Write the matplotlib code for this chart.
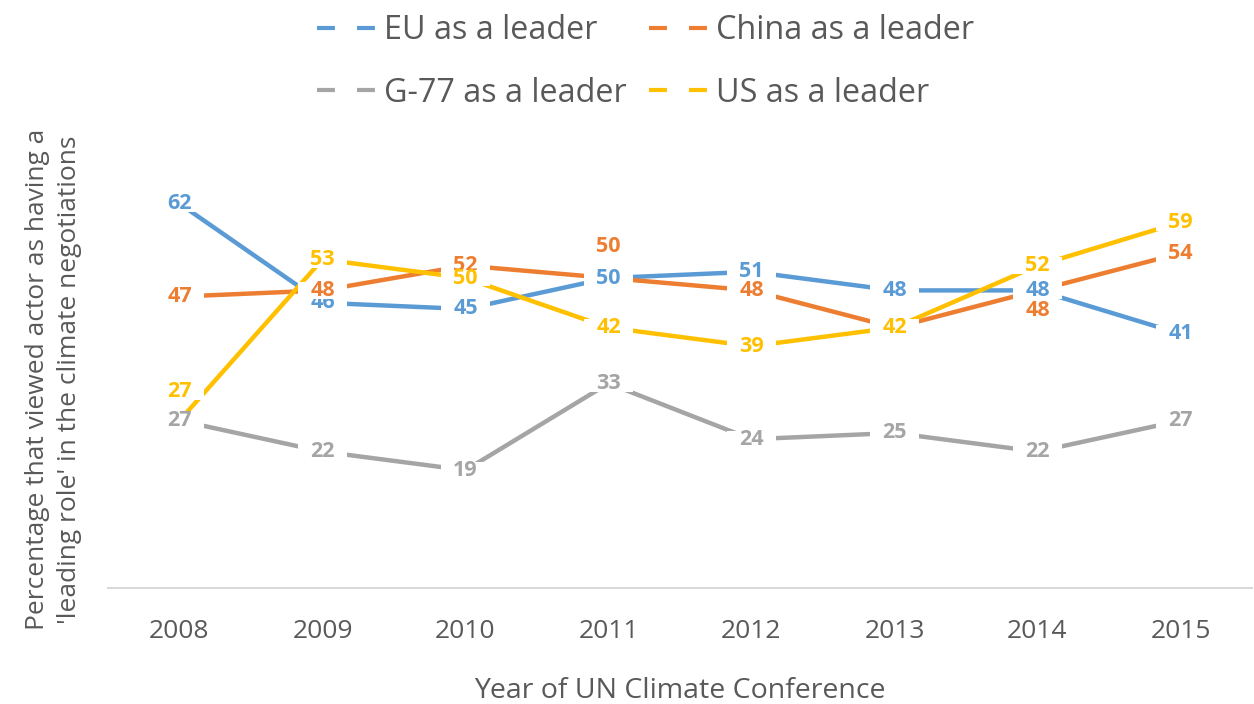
import matplotlib
matplotlib.use("Agg")
import matplotlib.pyplot as plt
from matplotlib.lines import Line2D
from matplotlib.path import Path

years = [2008, 2009, 2010, 2011, 2012, 2013, 2014, 2015]
eu = [62, 46, 45, 50, 51, 48, 48, 41]
china = [47, 48, 52, 50, 48, 42, 48, 54]
g77 = [27, 22, 19, 33, 24, 25, 22, 27]
us = [27, 53, 50, 42, 39, 42, 52, 59]

names = ["EU as a leader", "China as a leader", "G-77 as a leader", "US as a leader"]
colors = ["#5B9BD5", "#ED7D31", "#A5A5A5", "#FFC000"]

# a few labels were nudged off their points in the original (value units)
nudge = {("China as a leader", 2011): 5.0,
         ("China as a leader", 2014): -3.3,
         ("US as a leader", 2008): 4.7}

txt = "#595959"


def label_box(x0, y0, width, height, mutation_size):
    # wide, flat white box like excel's label fill
    px = 0.55 * mutation_size
    py = -0.1 * mutation_size
    return Path([(x0 - px, y0 - py), (x0 + width + px, y0 - py),
                 (x0 + width + px, y0 + height + py), (x0 - px, y0 + height + py),
                 (x0 - px, y0 - py)], closed=True)


fig = plt.figure(figsize=(12.54, 7.04), dpi=100)
ax = fig.add_axes([108 / 1254, 116 / 704, 1144 / 1254, 434 / 704])

xs = list(range(len(years)))
series = [eu, china, g77, us]
for vals, c in zip(series, colors):
    ax.plot(xs, vals, color=c, lw=3.2, solid_capstyle="butt", zorder=2)

# label draw order: eu, china, g-77, us (us on top)
for z, k in enumerate([0, 1, 2, 3]):
    for i, v in enumerate(series[k]):
        dy = nudge.get((names[k], years[i]), 0.0)
        ax.text(xs[i], v + dy, str(v), color=colors[k], fontsize=15.5,
                fontweight="bold", family="Open Sans", ha="center", va="center",
                bbox=dict(boxstyle=label_box, fc="white", ec="none"), zorder=3 + z)

ax.set_xlim(-0.5, len(years) - 0.5)
ax.set_ylim(0, 70)
ax.set_xticks(xs)
ax.set_xticklabels([str(y) for y in years], family="Open Sans", fontsize=19, color=txt)
ax.tick_params(axis="x", length=0, pad=22)
ax.set_yticks([])
for s in ["left", "right", "top"]:
    ax.spines[s].set_visible(False)
ax.spines["bottom"].set_color("#D9D9D9")
ax.spines["bottom"].set_linewidth(1.5)

ax.set_xlabel("Year of UN Climate Conference", family="Open Sans", fontsize=20.5, color=txt)
ax.xaxis.set_label_coords(0.5, -0.205)
ax.set_ylabel("Percentage that viewed actor as having a\n'leading role' in the climate negotiations",
              family="Open Sans", fontsize=19, color=txt, linespacing=1.35)
ax.yaxis.set_label_coords(-0.023, 0.48)

handles = [Line2D([], [], color=c, lw=3, dashes=(4.3, 5.3)) for c in colors]
order = [0, 2, 1, 3]
leg = fig.legend([handles[i] for i in order], [names[i] for i in order], ncol=2,
                 loc="upper left", bbox_to_anchor=(298 / 1254, 1.007), frameon=False,
                 prop={"family": "Open Sans", "size": 23.3},
                 handlelength=1.9, handletextpad=0.15, columnspacing=0.7,
                 labelspacing=0.9, borderaxespad=0.2)
for t in leg.get_texts():
    t.set_color(txt)

fig.savefig("out.png", dpi=100)
